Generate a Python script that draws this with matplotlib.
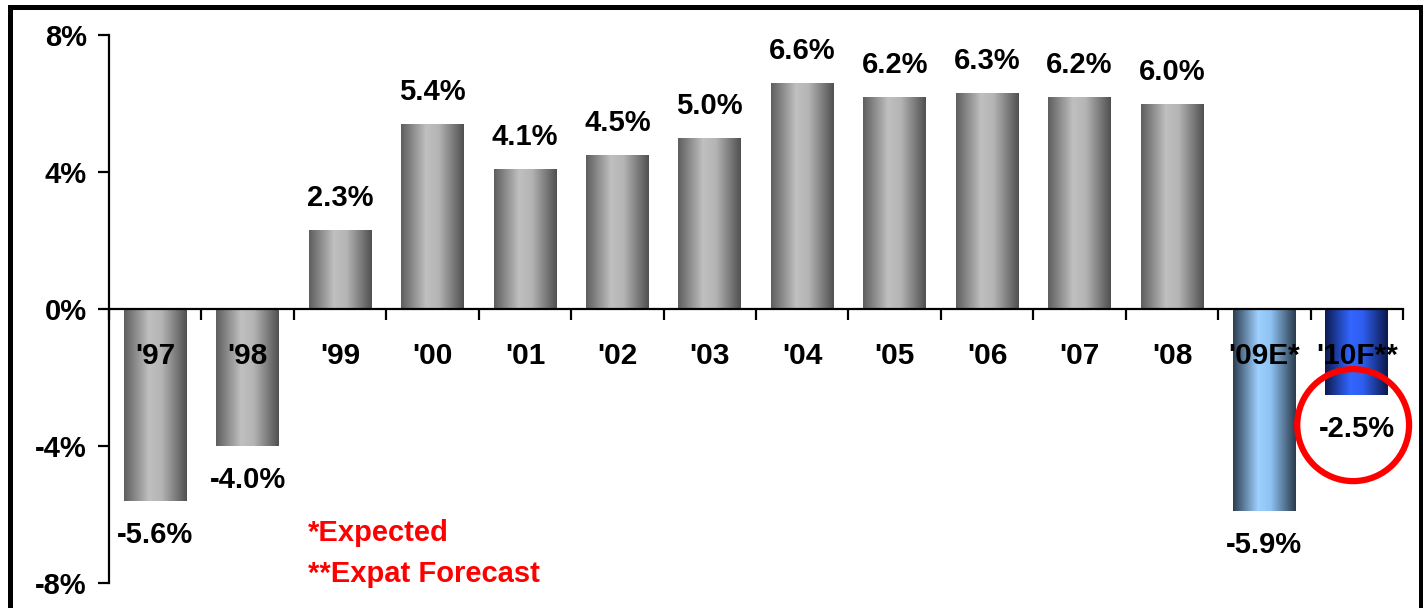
import numpy as np
import matplotlib
matplotlib.use("Agg")
import matplotlib.pyplot as plt
from matplotlib.colors import LinearSegmentedColormap
from matplotlib.patches import Rectangle, Ellipse

plt.rcParams['font.family'] = ['Liberation Sans', 'DejaVu Sans']
plt.rcParams['font.weight'] = 'bold'

years = ["'97", "'98", "'99", "'00", "'01", "'02", "'03", "'04",
         "'05", "'06", "'07", "'08", "'09E*", "'10F**"]
growth = [-5.6, -4.0, 2.3, 5.4, 4.1, 4.5, 5.0, 6.6, 6.2, 6.3, 6.2, 6.0, -5.9, -2.5]
styles = ['grey'] * 12 + ['light', 'blue']
yticks = [-8, -4, 0, 4, 8]
notes = ['*Expected', '**Expat Forecast']

# cylinder-like shading for each bar type
cmaps = {
    'grey': LinearSegmentedColormap.from_list('g', [(0, '#5e5e5e'), (0.4, '#c0c0c0'),
                                                    (0.6, '#b4b4b4'), (1, '#505050')]),
    'light': LinearSegmentedColormap.from_list('l', [(0, '#2c3e50'), (0.4, '#9fd0ff'),
                                                     (0.6, '#8ec2f2'), (1, '#2a3a4c')]),
    'blue': LinearSegmentedColormap.from_list('b', [(0, '#0c1a50'), (0.4, '#3366ff'),
                                                    (0.6, '#2f5ef0'), (1, '#0a1848')]),
}

fig = plt.figure(figsize=(14.23, 6.08), dpi=100)
ax = fig.add_axes([0.0766, 0.0411, 0.9094, 0.9013])

x = np.arange(len(years))
bars = ax.bar(x, growth, width=0.68, color='none', edgecolor='none', zorder=2)
grad = np.linspace(0, 1, 256).reshape(1, -1)
for b, st in zip(bars, styles):
    x0, y0 = b.get_x(), b.get_y()
    im = ax.imshow(grad, cmap=cmaps[st], aspect='auto', zorder=2,
                   extent=[x0, x0 + b.get_width(), y0, y0 + b.get_height()])
    im.set_clip_path(b)

ax.set_xlim(-0.5, len(years) - 0.5)
ax.set_ylim(-8, 8)

# value labels above positive bars, below negative ones
for i, v in enumerate(growth):
    off = 32 if v > 0 else -34
    ax.annotate(f'{v:.1f}%', (i, v), xytext=(0, off * 0.72), textcoords='offset points',
                ha='center', va='center', fontsize=21, fontweight='bold', zorder=4)

# year labels sit just under the zero line
for i, lab in enumerate(years):
    ax.annotate(lab, (i, 0), xytext=(0, -47 * 0.72), textcoords='offset points',
                ha='center', va='center', fontsize=21.5, fontweight='bold', zorder=4)

ax.spines['top'].set_visible(False)
ax.spines['right'].set_visible(False)
ax.spines['bottom'].set_position(('data', 0))
ax.spines['left'].set_linewidth(1.6)
ax.spines['bottom'].set_linewidth(1.6)
ax.spines['bottom'].set_zorder(3)

ax.set_yticks(yticks)
ax.set_yticklabels([f'{t}%' for t in yticks], fontsize=21, fontweight='bold')
ax.tick_params(axis='y', direction='out', length=8, width=1.6, pad=8)
ax.set_xticks(np.arange(len(years) + 1) - 0.5)
ax.set_xticklabels([])
ax.tick_params(axis='x', direction='out', length=8, width=1.6)

ax.text(1.65, -6.55, notes[0], color='#ff0000', fontsize=21, fontweight='bold', va='center')
ax.text(1.65, -7.75, notes[1], color='#ff0000', fontsize=21, fontweight='bold', va='center')

ax.add_patch(Ellipse((12.96, -3.39), 1.21, 3.27, fill=False, edgecolor='#ff0000',
                     linewidth=4.5, zorder=5, clip_on=False))

fig.patches.append(Rectangle((9.5 / 1423, -0.05), 1411 / 1423, 1.05 - 7.5 / 608,
                             transform=fig.transFigure, fill=False,
                             edgecolor='black', linewidth=3.6))

fig.savefig('out.png', dpi=100)
